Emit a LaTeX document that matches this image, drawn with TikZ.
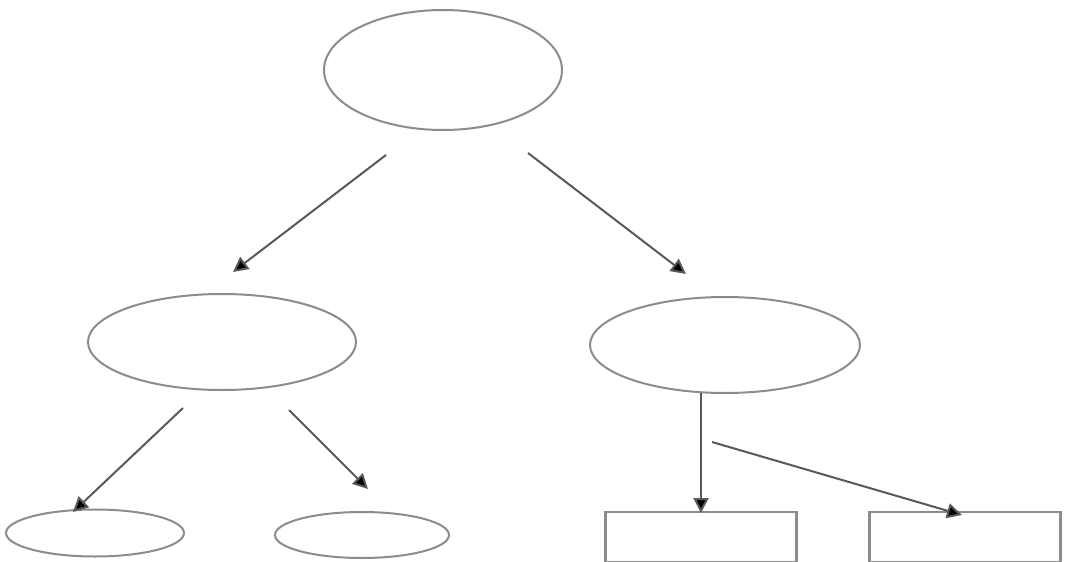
\documentclass[tikz,border=0pt]{standalone}
\usetikzlibrary{shapes.geometric,arrows.meta}
\begin{document}
\begin{tikzpicture}[x=1pt,y=-1pt,
  ell/.style={draw=black!45,line width=2pt,ellipse,inner sep=0pt},
  boxn/.style={draw=black!45,line width=2.5pt,rectangle,inner sep=0pt},
  arr/.style={draw=black!65,line width=2pt,-{Triangle[length=15pt,width=15pt,fill=black]}}]
\useasboundingbox (0,0) rectangle (1066,562);
\fill[white] (0,0) rectangle (1066,562);
\node[ell,minimum width=238pt,minimum height=120pt] (top) at (443,70) {};
\node[ell,minimum width=268pt,minimum height=96pt] (ml) at (222,342) {};
\node[ell,minimum width=270pt,minimum height=96pt] (mr) at (725,345) {};
\node[ell,minimum width=178pt,minimum height=47pt] (bl1) at (95,533) {};
\node[ell,minimum width=174pt,minimum height=46pt] (bl2) at (362,535) {};
\node[boxn,minimum width=191pt,minimum height=50pt] (r1) at (701,537) {};
\node[boxn,minimum width=191pt,minimum height=50pt] (r2) at (965,537) {};
\coordinate (a1s) at (386,155);
\coordinate (a1e) at (233,272);
\coordinate (a2s) at (528,153);
\coordinate (a2e) at (686,274);
\coordinate (a3s) at (183,408);
\coordinate (a3e) at (73,512);
\coordinate (a4s) at (289,410);
\coordinate (a4e) at (368,489);
\coordinate (a5s) at (701,393);
\coordinate (a5e) at (701,513);
\coordinate (a6s) at (712,442);
\coordinate (a6e) at (962,515);
\draw[arr] (a1s) -- (a1e);
\draw[arr] (a2s) -- (a2e);
\draw[arr] (a3s) -- (a3e);
\draw[arr] (a4s) -- (a4e);
\draw[arr] (a5s) -- (a5e);
\draw[arr] (a6s) -- (a6e);
\end{tikzpicture}
\end{document}
